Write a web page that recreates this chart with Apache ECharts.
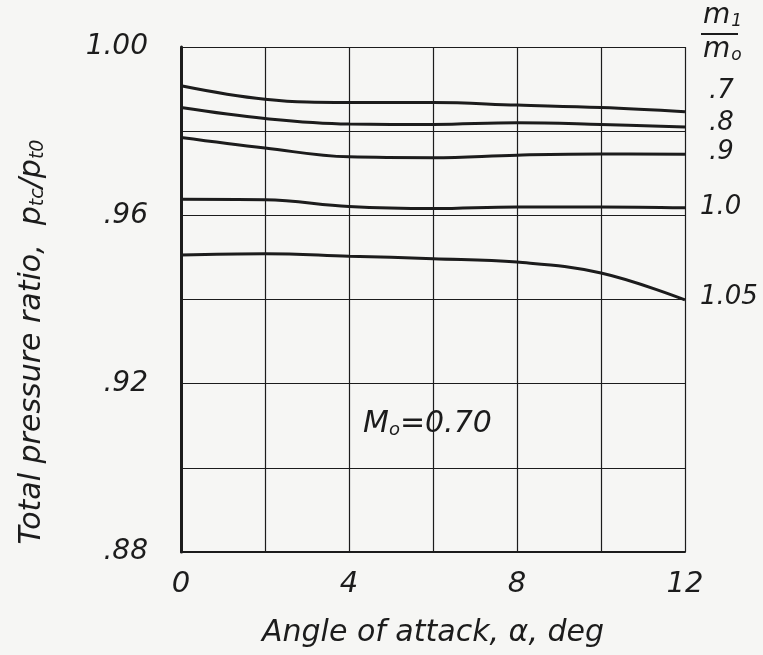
<!DOCTYPE html>
<html>
<head>
<meta charset="utf-8">
<script src="https://cdn.jsdelivr.net/npm/echarts@6/dist/echarts.min.js"></script>
<style>
  html, body { margin: 0; padding: 0; background: #f6f6f4; }
  #root { width: 763px; height: 655px; }
</style>
</head>
<body>
<div id="root"></div>
<script>
const angles = [0, 2, 4, 6, 8, 10, 12];
const massRatios = ['.7', '.8', '.9', '1.0', '1.05'];
const ratio07 = [0.9908, 0.9876, 0.9868, 0.9868, 0.9862, 0.9856, 0.9846];
const ratio08 = [0.9856, 0.9830, 0.9817, 0.9816, 0.9820, 0.9816, 0.9810];
const ratio09 = [0.9785, 0.9760, 0.9739, 0.9737, 0.9743, 0.9746, 0.9745];
const ratio10 = [0.9638, 0.9637, 0.9621, 0.9616, 0.9620, 0.9620, 0.9618];
const ratio105 = [0.9506, 0.9509, 0.9503, 0.9497, 0.9489, 0.9463, 0.9399];
const yTicks = ['.88', '.92', '.96', '1.00'];

const ink = '#1c1c1c';
const font = 'DejaVu Sans';

const chart = echarts.init(document.getElementById('root'));

const curves = [ratio07, ratio08, ratio09, ratio10, ratio105];
const series = curves.map((vals, i) => ({
    name: massRatios[i],
    type: 'line',
    smooth: 0.4,
    showSymbol: false,
    lineStyle: { color: ink, width: 3 },
    data: angles.map((a, j) => [a, vals[j]])
}));

// right-hand curve labels, placed beside the line ends
const labelY = [92, 124, 153, 208, 298];
const labelX = [709, 709, 709, 700, 700];
const labels = massRatios.map((t, i) => ({
    type: 'text',
    left: labelX[i],
    top: labelY[i] - 14,
    style: { text: t, font: 'italic 26px ' + font, fill: ink }
}));

const sub = { font: 'italic 17px ' + font, fill: ink, padding: [11, 0, 0, 1] };

chart.setOption({
    backgroundColor: '#f6f6f4',
    animation: false,
    grid: { left: 181, right: 78, top: 47, bottom: 103, outerBoundsMode: 'none' },
    xAxis: {
        type: 'value',
        min: 0, max: 12, interval: 2,
        name: 'Angle of attack, \u03b1, deg',
        nameLocation: 'middle',
        nameGap: 66,
        nameTextStyle: { fontFamily: font, fontStyle: 'italic', fontSize: 30, color: ink },
        axisLine: { lineStyle: { color: ink, width: 2 } },
        axisTick: { show: false },
        splitLine: { lineStyle: { color: ink, width: 1.2 } },
        axisLabel: {
            margin: 18,
            fontFamily: font, fontStyle: 'italic', fontSize: 29, color: ink,
            formatter: v => (v % 4 === 0 ? String(v) : '')
        }
    },
    yAxis: {
        type: 'value',
        min: 0.88, max: 1.0, interval: 0.02,
        axisLine: { show: true, lineStyle: { color: ink, width: 3 } },
        axisTick: { show: false },
        splitLine: { lineStyle: { color: ink, width: 1.2 } },
        axisLabel: {
            margin: 33,
            fontFamily: font, fontStyle: 'italic', fontSize: 28, color: ink,
            formatter: v => {
                const k = Math.round(v * 100);
                const idx = [88, 92, 96, 100].indexOf(k);
                return idx >= 0 ? yTicks[idx] : '';
            }
        }
    },
    graphic: labels.concat([
        {
            type: 'text', x: 32, y: 342, rotation: Math.PI / 2,
            style: {
                text: '{t|Total pressure ratio,  p}{s|tc}{t|/p}{s|t0}',
                align: 'center', verticalAlign: 'middle',
                rich: {
                    t: { font: 'italic 30px ' + font, fill: ink },
                    s: { font: 'italic 19px ' + font, fill: ink, padding: [12, 0, 0, 0] }
                }
            }
        },
        {
            type: 'text', left: 703, top: 2,
            style: {
                text: '{m|m}{s|1}',
                rich: { m: { font: 'italic 28px ' + font, fill: ink }, s: sub }
            }
        },
        { type: 'rect', left: 701, top: 33, shape: { width: 37, height: 2 }, style: { fill: ink } },
        {
            type: 'text', left: 703, top: 36,
            style: {
                text: '{m|m}{s|o}',
                rich: { m: { font: 'italic 28px ' + font, fill: ink }, s: sub }
            }
        },
        {
            type: 'text', left: 363, top: 409,
            style: {
                text: '{m|M}{s|o}{m|=0.70}',
                rich: {
                    m: { font: 'italic 30px ' + font, fill: ink },
                    s: { font: 'italic 18px ' + font, fill: ink, padding: [12, 0, 0, 0] }
                }
            }
        }
    ]),
    series: series
});
</script>
</body>
</html>
